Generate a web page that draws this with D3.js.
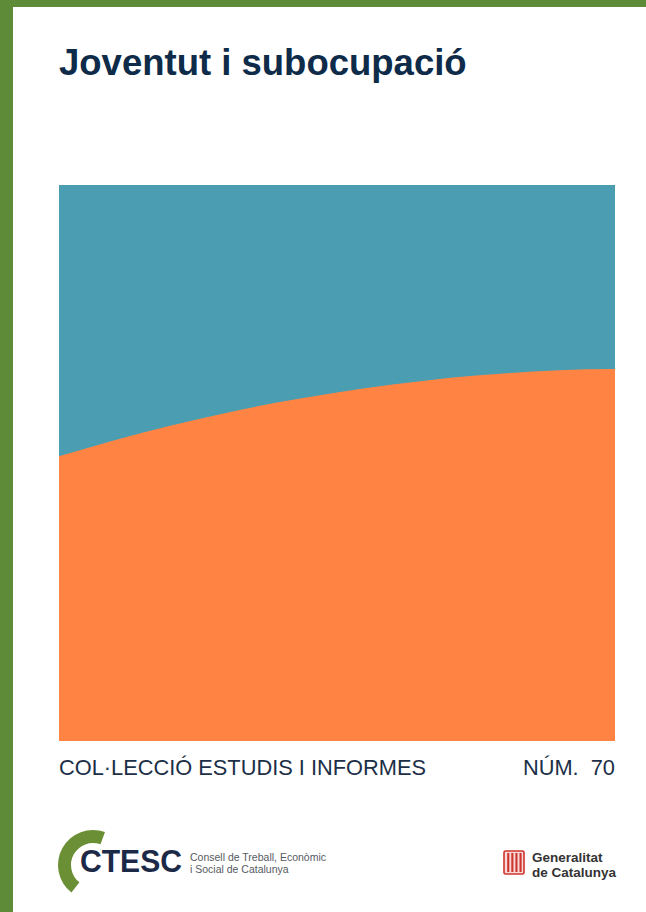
<!DOCTYPE html>
<html>
<head>
<meta charset="utf-8">
<script src="https://cdn.jsdelivr.net/npm/d3@7"></script>
<style>
html,body{margin:0;padding:0;background:#5d8b37;}
svg{display:block;}
</style>
</head>
<body>
<svg id="c" width="646" height="912"></svg>
<script>
// ---- data ----
const steps = [0, 1, 2, 3, 4, 5, 6, 7, 8, 9, 10];
const lowerShare = [0.512, 0.541, 0.567, 0.590, 0.610, 0.627, 0.641, 0.653, 0.661, 0.667, 0.669];
const seriesColors = ["#ff8443", "#4b9eb1"];
const titleText = "Joventut i subocupació";
const collectionText = "COL·LECCIÓ ESTUDIS I INFORMES";
const numberText = "NÚM.  70";
const ctescLines = ["Consell de Treball, Econòmic", "i Social de Catalunya"];
const govLines = ["Generalitat", "de Catalunya"];

const svg = d3.select("#c");
const font = "'Liberation Sans', Arial, Helvetica, sans-serif";

// green frame + white page
svg.append("rect").attr("x", 0).attr("y", 0).attr("width", 646).attr("height", 912).attr("fill", "#5d8b37");
svg.append("rect").attr("x", 13).attr("y", 7).attr("width", 633).attr("height", 905).attr("fill", "#ffffff");

// title
svg.append("text").attr("x", 59).attr("y", 75)
  .attr("font-family", font).attr("font-weight", "bold").attr("font-size", 36.5)
  .attr("fill", "#0e2b49").text(titleText);

// chart area
const x = d3.scaleLinear().domain(d3.extent(steps)).range([59, 615]);
const y = d3.scaleLinear().domain([0, 1]).range([741, 185]);

svg.append("rect")
  .attr("x", x(0)).attr("y", y(1))
  .attr("width", x(10) - x(0)).attr("height", y(0) - y(1))
  .attr("fill", seriesColors[1]);

const area = d3.area()
  .x((d, i) => x(steps[i]))
  .y0(y(0))
  .y1(d => y(d))
  .curve(d3.curveMonotoneX);

svg.append("path").datum(lowerShare).attr("d", area).attr("fill", seriesColors[0]);

// collection line
svg.append("text").attr("x", 59).attr("y", 775)
  .attr("font-family", font).attr("font-size", 21.8).attr("fill", "#1c2f47")
  .text(collectionText);
svg.append("text").attr("x", 615).attr("y", 775).attr("text-anchor", "end")
  .attr("font-family", font).attr("font-size", 21.8).attr("fill", "#1c2f47")
  .attr("xml:space", "preserve").style("white-space", "pre")
  .text(numberText);

// CTESC logo
const arc = d3.arc().innerRadius(22).outerRadius(35)
  .startAngle(-142 * Math.PI / 180).endAngle(20 * Math.PI / 180);
svg.append("path").attr("d", arc()).attr("transform", "translate(93,865)").attr("fill", "#6b8f35");
svg.append("text").attr("x", 80).attr("y", 872)
  .attr("font-family", font).attr("font-weight", "bold").attr("font-size", 31)
  .attr("textLength", 102).attr("lengthAdjust", "spacingAndGlyphs")
  .attr("fill", "#1c2a48").text("CTESC");
ctescLines.forEach((t, i) => {
  svg.append("text").attr("x", 190).attr("y", 861 + i * 12)
    .attr("font-family", font).attr("font-size", 10.5).attr("fill", "#555a62").text(t);
});

// Generalitat logo
const g = svg.append("g");
g.append("rect").attr("x", 504).attr("y", 851).attr("width", 20).attr("height", 23).attr("rx", 1.5)
  .attr("fill", "#f6d9d6").attr("stroke", "#d0342f").attr("stroke-width", 1.6);
[0, 1, 2, 3].forEach(i => {
  g.append("rect").attr("x", 507.2 + i * 4.1).attr("y", 853).attr("width", 2.1).attr("height", 19)
    .attr("fill", "#d0342f");
});
govLines.forEach((t, i) => {
  svg.append("text").attr("x", 532).attr("y", 862 + i * 14.5)
    .attr("font-family", font).attr("font-weight", "bold").attr("font-size", 13.5)
    .attr("fill", "#333333").text(t);
});
</script>
</body>
</html>
